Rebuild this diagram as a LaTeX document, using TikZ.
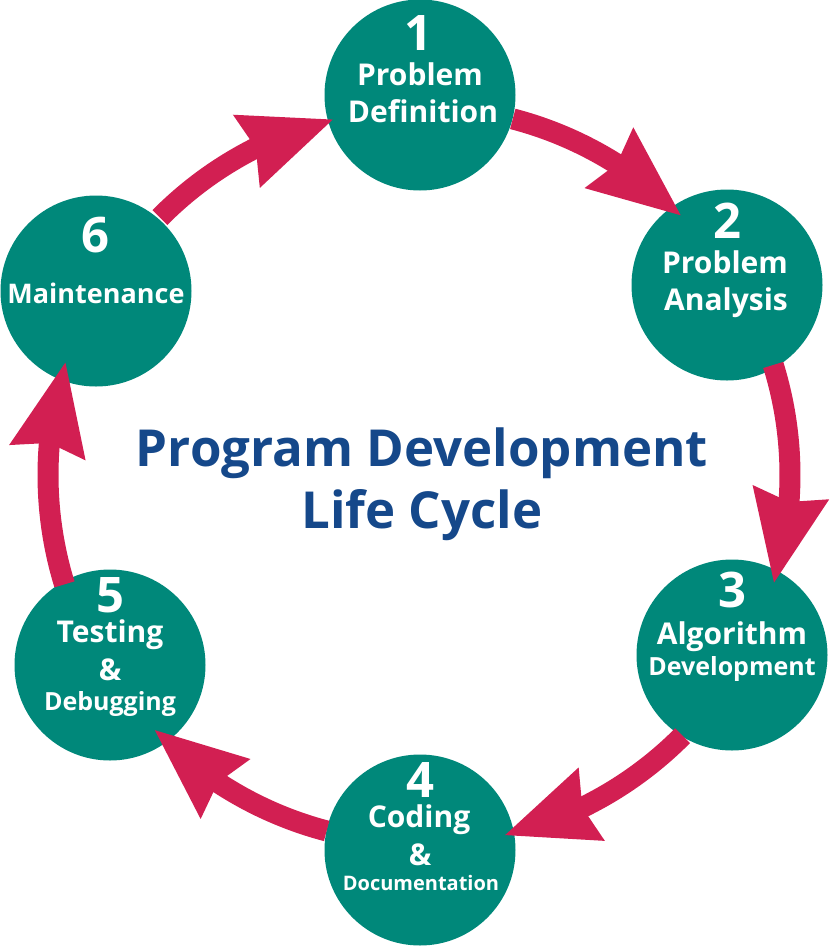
\documentclass[tikz,border=0pt]{standalone}
\usepackage{fontspec}
\setmainfont{Open Sans}
\usetikzlibrary{arrows.meta,bending}
\definecolor{stageteal}{HTML}{00887A}
\definecolor{arrowred}{HTML}{D21F52}
\definecolor{titleblue}{HTML}{15488A}
\begin{document}
\begin{tikzpicture}[x=1pt,y=1pt,
  stage/.style={circle,fill=stageteal,minimum size=191pt,inner sep=0pt},
  txt/.style={text=white,anchor=base,inner sep=0pt},
  numf/.style={txt,font=\fontsize{49}{49}\selectfont\bfseries},
  bigf/.style={txt,font=\fontsize{30}{30}\selectfont\bfseries},
  midf/.style={txt,font=\fontsize{25}{25}\selectfont\bfseries},
  mainf/.style={txt,font=\fontsize{27}{27}\selectfont\bfseries},
  smallf/.style={txt,font=\fontsize{20}{20}\selectfont\bfseries},
  titlef/.style={text=titleblue,anchor=base,inner sep=0pt,font=\fontsize{51}{51}\selectfont\bfseries},
  flow/.style={draw=arrowred,line width=21pt,
    -{Stealth[length=92pt,width=78pt,inset=10pt,line width=0pt,flex]}}
]
\useasboundingbox (0,0) rectangle (830,-946);
% stages
\node[stage] (s1) at (420,-95) {};
\node[stage] (s2) at (727,-285) {};
\node[stage] (s3) at (732,-655) {};
\node[stage] (s4) at (420,-850) {};
\node[stage] (s5) at (110,-665) {};
\node[stage] (s6) at (96,-291) {};
% labels
\node[numf] (n1) at (418,-50) {1};
\node[bigf] (t1a) at (420,-85) {Problem};
\node[bigf] (t1b) at (423,-122) {Definition};
\node[numf] (n2) at (727,-238) {2};
\node[bigf] (t2a) at (725,-273) {Problem};
\node[bigf] (t2b) at (726,-310) {Analysis};
\node[numf] (n3) at (732,-607) {3};
\node[bigf] (t3a) at (732,-644) {Algorithm};
\node[midf] (t3b) at (732,-675) {Development};
\node[numf] (n4) at (420,-797) {4};
\node[bigf] (t4a) at (419,-827) {Coding};
\node[bigf] (t4b) at (420,-865) {\&};
\node[smallf] (t4c) at (421,-890) {Documentation};
\node[numf] (n5) at (110,-612) {5};
\node[bigf] (t5a) at (110,-642) {Testing};
\node[bigf] (t5b) at (110,-680) {\&};
\node[midf] (t5c) at (110,-710) {Debugging};
\node[numf] (n6) at (95,-252) {6};
\node[mainf] (t6a) at (96,-303) {Maintenance};
% title
\node[titlef] (title1) at (422,-466) {Program Development};
\node[titlef] (title2) at (422,-528) {Life Cycle};
% connectors along the big ring
\coordinate (ctr) at (420,-475);
\coordinate (a1) at ([shift={(75.4:368)}]ctr);
\coordinate (a2) at ([shift={(17.3:370)}]ctr);
\coordinate (a3) at ([shift={(-44.8:370)}]ctr);
\coordinate (a4) at ([shift={(-104.7:368)}]ctr);
\coordinate (a5) at ([shift={(197.1:372)}]ctr);
\coordinate (a6) at ([shift={(135.3:366)}]ctr);
\draw[flow] (a1) arc[start angle=75.4,end angle=44.9,radius=368];
\draw[flow] (a2) arc[start angle=17.3,end angle=-16.9,radius=370];
\draw[flow] (a3) arc[start angle=-44.8,end angle=-76.7,radius=370];
\draw[flow] (a4) arc[start angle=-104.7,end angle=-136.1,radius=368];
\draw[flow] (a5) arc[start angle=197.1,end angle=162.4,radius=372];
\draw[flow] (a6) arc[start angle=135.3,end angle=103.8,radius=366];
\end{tikzpicture}
\end{document}
